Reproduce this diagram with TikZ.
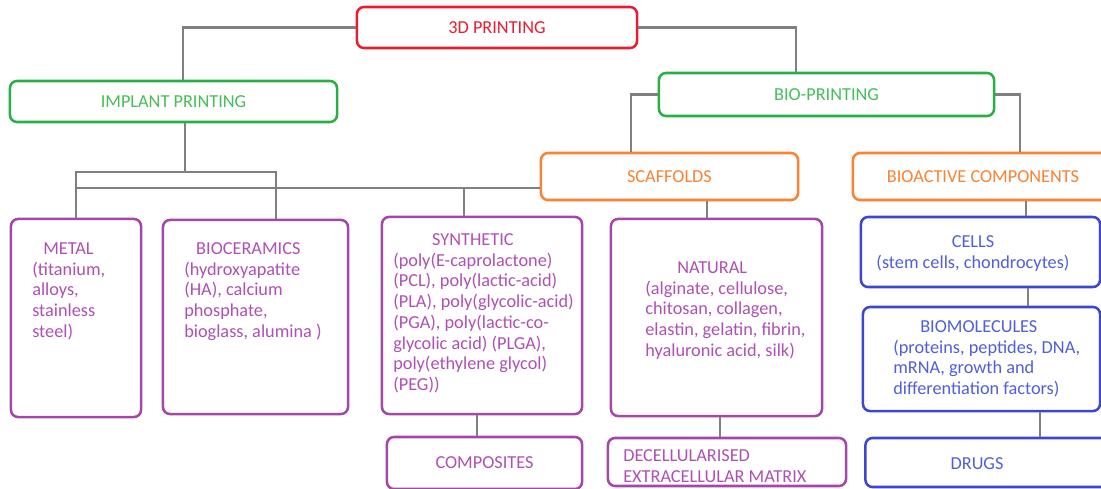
\documentclass[tikz,border=0pt]{standalone}
\usepackage{fontspec}
\setmainfont{Carlito}
\definecolor{redline}{RGB}{232,30,48}
\definecolor{greenline}{RGB}{40,175,70}
\definecolor{greentext}{RGB}{70,190,90}
\definecolor{orangeline}{RGB}{250,130,50}
\definecolor{purpleline}{RGB}{165,70,170}
\definecolor{purpletext}{RGB}{175,80,180}
\definecolor{blueline}{RGB}{60,70,210}
\definecolor{bluetext}{RGB}{80,95,220}
\definecolor{linkgray}{RGB}{128,128,128}

\begin{document}
\begin{tikzpicture}[x=0.025cm,y=-0.025cm,font=\fontsize{13}{14.7}\selectfont]
\tikzset{
  box/.style={draw,rounded corners=5pt,line width=1.8pt,inner sep=0pt,fill=white},
  redbox/.style={box,draw=redline,text=redline},
  greenbox/.style={box,draw=greenline,text=greentext},
  orangebox/.style={box,draw=orangeline,text=orangeline},
  purplebox/.style={box,draw=purpleline,text=purpletext},
  bluebox/.style={box,draw=blueline,text=bluetext},
  boxtext/.style={inner sep=0pt,align=left,anchor=north west},
  link/.style={draw=linkgray,line width=2pt}
}
\useasboundingbox (0,0) rectangle (1101,488);
\node[redbox,minimum width=7cm,minimum height=1.025cm] (n_print) at (497,27.5) {3D PRINTING};
\node[greenbox,minimum width=8.175cm,minimum height=1.025cm] (n_implant) at (173.5,101.5) {IMPLANT PRINTING};
\node[greenbox,minimum width=8.375cm,minimum height=1.075cm] (n_bio) at (826.5,94.5) {BIO-PRINTING};
\node[orangebox,minimum width=6.425cm,minimum height=1.175cm] (n_scaf) at (669.5,176.5) {SCAFFOLDS};
\node[orangebox,minimum width=6.5cm,minimum height=1.175cm] (n_bioact) at (983,176.5) {BIOACTIVE COMPONENTS};
\node[purplebox,minimum width=3.25cm,minimum height=4.95cm] (n_metal) at (76,318) {};
\node[purplebox,minimum width=4.625cm,minimum height=4.85cm] (n_ceram) at (255.5,317) {};
\node[purplebox,minimum width=5cm,minimum height=4.925cm] (n_synth) at (482,315.5) {};
\node[purplebox,minimum width=5.275cm,minimum height=4.925cm] (n_nat) at (716.5,317.5) {};
\node[purplebox,minimum width=4.875cm,minimum height=1.3cm] (n_comp) at (484.5,463) {COMPOSITES};
\node[purplebox,minimum width=5.95cm,minimum height=1.2cm] (n_decell) at (727,462) {};
\node[bluebox,minimum width=5.975cm,minimum height=1.75cm] (n_cells) at (980.5,252) {};
\node[bluebox,minimum width=5.925cm,minimum height=2.6cm] (n_biomol) at (981.5,359) {};
\node[bluebox,minimum width=6.2cm,minimum height=1.225cm] (n_drugs) at (989.5,462.5) {};
\node[text=bluetext] (t_drugs) at (977,464) {DRUGS};
\node[boxtext,text=purpletext] (t_metal) at (32,242.5) {\hspace*{7.8pt}METAL\\(titanium,\\alloys,\\stainless\\steel)};
\node[boxtext,text=purpletext] (t_ceram) at (184,242.5) {\hspace*{8.5pt}BIOCERAMICS\\(hydroxyapatite\\(HA), calcium\\phosphate,\\bioglass, alumina )};
\node[boxtext,text=purpletext] (t_synth) at (393,233.5) {\hspace*{27.7pt}SYNTHETIC\\(poly(E-caprolactone)\\(PCL), poly(lactic-acid)\\(PLA), poly(glycolic-acid)\\(PGA), poly(lactic-co-\\glycolic acid) (PLGA),\\poly(ethylene glycol)\\(PEG))};
\node[boxtext,text=purpletext] (t_nat) at (645,261.5) {\hspace*{22.8pt}NATURAL\\(alginate, cellulose,\\chitosan, collagen,\\elastin, gelatin, fibrin,\\hyaluronic acid, silk)};
\node[boxtext,text=purpletext] (t_decell) at (623,449.5) {DECELLULARISED\\EXTRACELLULAR MATRIX};
\node[boxtext,text=bluetext,align=center,anchor=north] (t_cells) at (973,235.5) {CELLS\\(stem cells, chondrocytes)};
\node[boxtext,text=bluetext] (t_biomol) at (893,320.5) {\hspace*{19.2pt}BIOMOLECULES\\(proteins, peptides, DNA,\\mRNA, growth and\\differentiation factors)};
\coordinate (j_implant) at (185,172);
\coordinate (j_ceram) at (276,172);
\coordinate (j_synth) at (464,188);
\draw[link] (n_print.west) -| ([shift={(9.5,0)}]n_implant.north);
\draw[link] (n_print.east) -| ([shift={(-30.5,0)}]n_bio.north);
\draw[link] (n_bio.west) -| ([shift={(-38.5,0)}]n_scaf.north);
\draw[link] (n_bio.east) -| ([shift={(37,0)}]n_bioact.north);
\draw[link] (n_implant.south -| j_implant) -- (j_implant);
\draw[link] (n_metal.north) |- (j_ceram) -- (j_ceram |- n_ceram.north);
\draw[link] (n_metal.north |- j_synth) -- (j_synth -| n_scaf.west);
\draw[link] (j_synth) -- (j_synth |- n_synth.north);
\draw[link] ([shift={(37.5,0)}]n_scaf.south) coordinate (j_nat) -- (j_nat |- n_nat.north);
\draw[link] ([shift={(-5,0)}]n_synth.south) coordinate (j_comp) -- (j_comp |- n_comp.north);
\draw[link] ([shift={(3.5,0)}]n_nat.south) coordinate (j_decell) -- (j_decell |- n_decell.north);
\draw[link] ([shift={(43,0)}]n_bioact.south) coordinate (j_cells) -- (j_cells |- n_cells.north);
\draw[link] ([shift={(47.5,0)}]n_cells.south) coordinate (j_biomol) -- (j_biomol |- n_biomol.north);
\draw[link] ([shift={(58.5,0)}]n_biomol.south) coordinate (j_drugs) -- (j_drugs |- n_drugs.north);
\end{tikzpicture}
\end{document}
